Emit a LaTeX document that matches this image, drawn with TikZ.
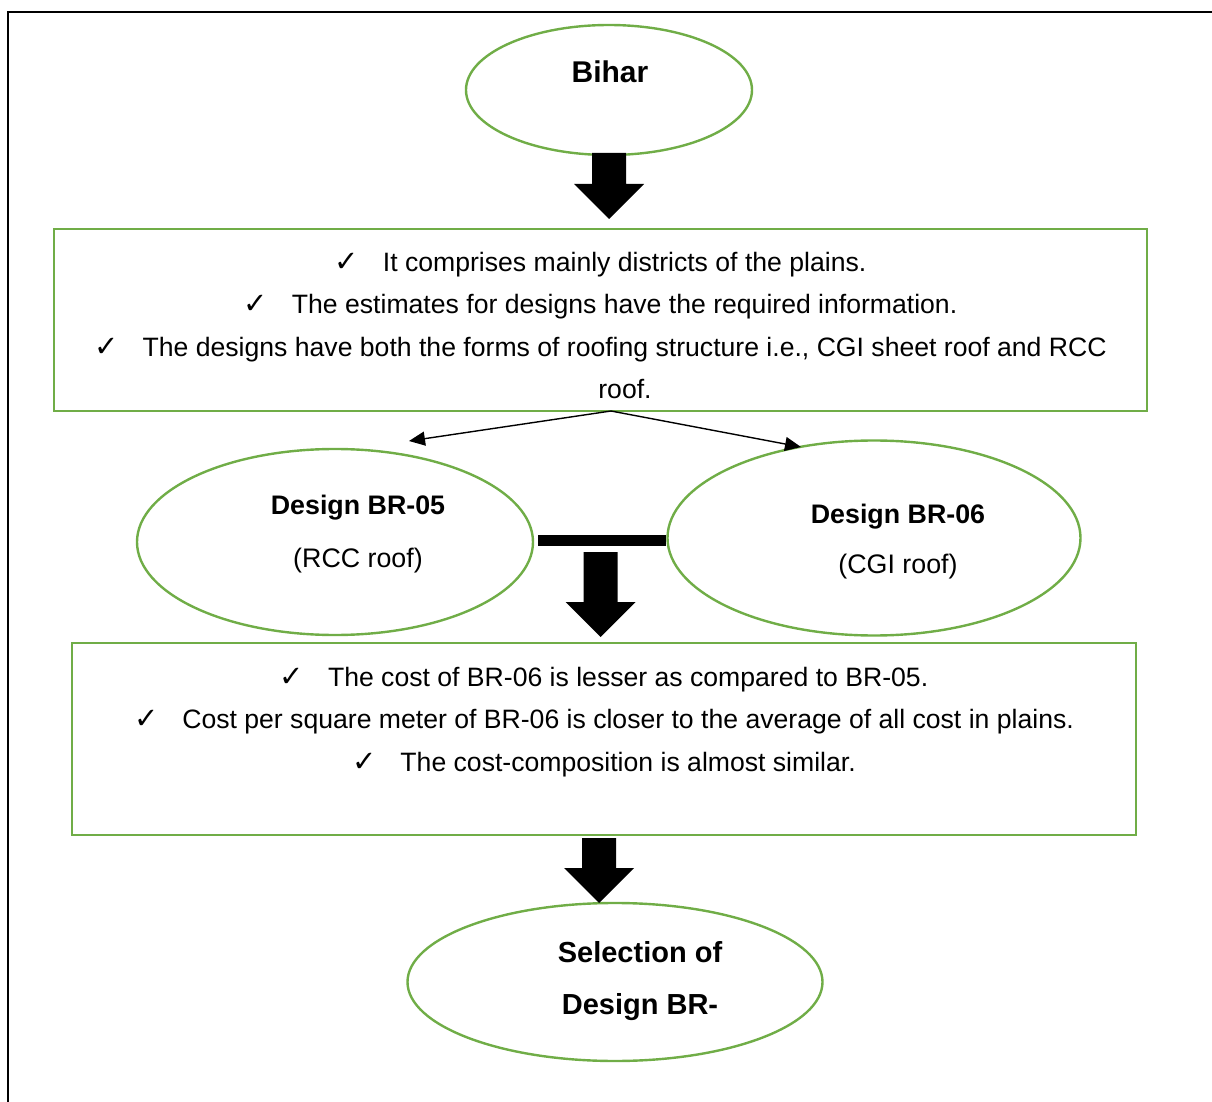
\documentclass[tikz,border=0pt]{standalone}
\usepackage{fontspec}
\setmainfont{Liberation Sans}
\newfontfamily\checkfont{DejaVu Sans}
\usetikzlibrary{shapes.geometric,arrows.meta}
\definecolor{leafgreen}{HTML}{70AD47}
\newcommand{\tick}{{\checkfont\fontsize{14.5}{14}\selectfont ✓}\hspace{0.9em}}
% block arrow: x, top y, tip y
\newcommand{\blockarrow}[3]{%
  \fill (#1-17,#2) -- (#1+17,#2) -- (#1+17,#3-35) -- (#1+35,#3-35) -- (#1,#3)
    -- (#1-35,#3-35) -- (#1-17,#3-35) -- cycle;}
\begin{document}
\begin{tikzpicture}[x=0.5pt,y=-0.5pt,
    oval/.style ={ellipse, draw=leafgreen, line width=1.2pt, inner sep=0pt},
    infobox/.style ={rectangle, draw=leafgreen, line width=1.2pt, inner sep=0pt},
    txt/.style ={align=center, inner sep=0pt, font=\fontsize{13.3}{21.25}\selectfont},
    title/.style ={align=center, inner sep=0pt, font=\bfseries\fontsize{13.4}{26.5}\selectfont}]
   \useasboundingbox (0,0) rectangle (1212,1102);
   \draw[line width=0.7pt] (8,1102) -- (8,12) -- (1212,12);
   % ovals and boxes
   \node[oval, minimum width=143pt, minimum height=65pt] (bihar) at (609,90) {};
   \node[title, font=\bfseries\fontsize{15}{18}\selectfont] (bihar-txt) at (610,72) {Bihar};
   \node[infobox, minimum width=546.5pt, minimum height=91pt] (plains) at (600.5,320) {};
   \node[txt] (plains-txt) at (600.5,325.5) {\tick It comprises mainly districts of the plains.\\
     \tick The estimates for designs have the required information.\\
     \tick The designs have both the forms of roofing structure i.e., CGI sheet roof and RCC\\
     \hspace*{24.5pt}roof.};
   \node[oval, minimum width=198pt, minimum height=93pt] (br05) at (335,542) {};
   \node[title] (br05-txt) at (358,534.5) {Design BR-05\\ \mdseries (RCC roof)};
   \node[oval, minimum width=206.5pt, minimum height=97.5pt] (br06) at (874,538) {};
   \node[title, font=\bfseries\fontsize{13.4}{25}\selectfont] (br06-txt) at (898,542) {Design BR-06\\ \mdseries (CGI roof)};
   \node[infobox, minimum width=532pt, minimum height=96pt] (cost) at (604,739) {};
   \node[txt] (cost-txt) at (604,722) {\tick The cost of BR-06 is lesser as compared to BR-05.\\
     \tick Cost per square meter of BR-06 is closer to the average of all cost in plains.\\
     \tick The cost-composition is almost similar.};
   \node[oval, minimum width=207.5pt, minimum height=79pt] (select) at (615,982) {};
   \node[title, font=\bfseries\fontsize{14.5}{26}\selectfont] (select-txt) at (640,981) {Selection of\\ Design BR-};
   % connectors
   \coordinate (split) at (611,411);
   \coordinate (br05-top) at (409,441);
   \coordinate (br06-top) at (801,447);
   \draw[line width=0.7pt, -{Triangle[length=8pt,width=7pt]}] (split) -- (br05-top);
   \draw[line width=0.7pt, -{Triangle[length=8pt,width=7pt]}] (split) -- (br06-top);
   \fill (538,535) rectangle (666,546);
   \blockarrow{609}{153}{219}
   \blockarrow{600.5}{552}{637}
   \blockarrow{599}{838}{903}
 \end{tikzpicture}
\end{document}
